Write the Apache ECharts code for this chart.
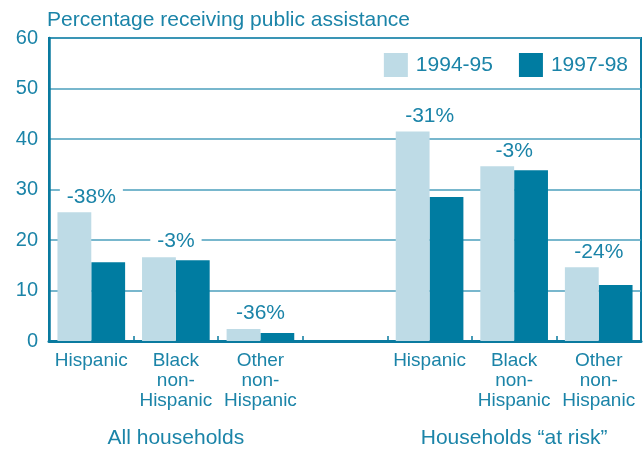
<!DOCTYPE html>
<html><head><meta charset="utf-8">
<script src="https://cdn.jsdelivr.net/npm/echarts@6/dist/echarts.min.js"></script>
<style>html,body{margin:0;padding:0;background:#fff}#c{width:643px;height:449px}</style>
</head><body><div id="c"></div>
<script>
const categories = ['Hispanic','Black\nnon-\nHispanic','Other\nnon-\nHispanic','','Hispanic','Black\nnon-\nHispanic','Other\nnon-\nHispanic'];
const groupLabels = ['', 'All households', '', '', '', 'Households \u201cat risk\u201d', ''];
const v1994 = [25.5, 16.6, 2.4, null, 41.5, 34.6, 14.6];
const v1997 = [15.6, 16.0, 1.6, null, 28.5, 33.8, 11.1];
const changes = ['-38%', '-3%', '-36%', '', '-31%', '-3%', '-24%'];
const yTicks = [0, 10, 20, 30, 40, 50, 60];

const TEXT = '#1b84a8', DARK = '#007ca1', LIGHT = '#bedbe6', GRID = '#4b9fbd', AXIS = '#0a7a9f';
const FONT = 'Liberation Sans';
const chart = echarts.init(document.getElementById('c'), null, {renderer: 'canvas'});
chart.setOption({
  animation: false,
  textStyle: {fontFamily: FONT},
  title: {text: 'Percentage receiving public assistance', left: 42, top: 5,
    textStyle: {fontFamily: FONT, fontSize: 21, fontWeight: 'normal', color: TEXT}},
  legend: {right: 10, top: 48, itemWidth: 24, itemHeight: 24, itemGap: 26, icon: 'rect',
    data: ['1994-95', '1997-98'],
    textStyle: {fontFamily: FONT, fontSize: 21, color: TEXT, padding: [0, 0, 0, 3]}},
  grid: {left: 49, right: 2, top: 38, bottom: 108, show: true, borderColor: AXIS, borderWidth: 2},
  xAxis: [{
    type: 'category', data: categories, position: 'bottom',
    axisLine: {show: true, lineStyle: {color: AXIS, width: 3}},
    axisTick: {show: true, inside: true, length: 5, lineStyle: {color: AXIS, width: 1.5}},
    axisLabel: {interval: 0, margin: 10, color: TEXT, fontSize: 19, lineHeight: 20, fontFamily: FONT}
  }, {
    type: 'category', data: categories, position: 'bottom', offset: 87,
    axisLine: {show: false}, axisTick: {show: false},
    axisLabel: {interval: 0, margin: 0, color: TEXT, fontSize: 21, fontFamily: FONT,
      formatter: (v, i) => groupLabels[i]}
  }],
  yAxis: {
    type: 'value', min: yTicks[0], max: yTicks[yTicks.length - 1], interval: 10,
    axisLine: {show: true, lineStyle: {color: AXIS, width: 2.5}},
    axisTick: {show: false},
    axisLabel: {margin: 11, color: TEXT, fontSize: 20, fontFamily: FONT},
    splitLine: {show: true, lineStyle: {color: GRID, width: 1.5}}
  },
  series: [{
    name: '1994-95', type: 'bar', data: v1994, barGap: '0%', barCategoryGap: '20%',
    itemStyle: {color: LIGHT}, z: 3,
    label: {show: true, position: 'top', distance: 5, offset: [17, 0],
      formatter: p => changes[p.dataIndex],
      color: TEXT, fontSize: 21, fontFamily: FONT, backgroundColor: '#fff', padding: [0, 7]}
  }, {
    name: '1997-98', type: 'bar', data: v1997, itemStyle: {color: DARK}, z: 2
  }]
});
</script></body></html>
